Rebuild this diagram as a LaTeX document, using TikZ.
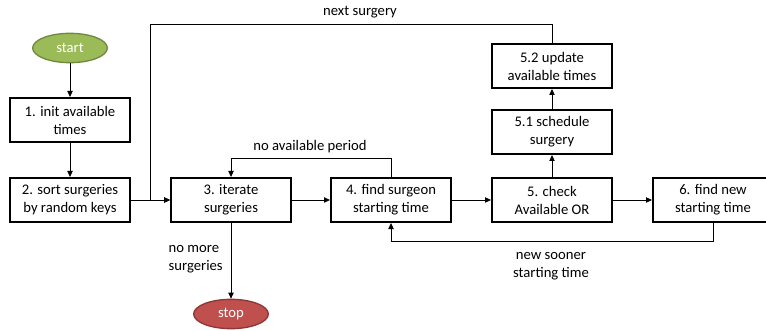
\documentclass[tikz,border=0pt]{standalone}
\usepackage{fontspec}
\setmainfont{Carlito}
\usetikzlibrary{arrows.meta,shapes.geometric}
\definecolor{startgreen}{HTML}{9BBB59}
\definecolor{startedge}{HTML}{71893F}
\definecolor{stopred}{HTML}{C0504D}
\definecolor{stopedge}{HTML}{8C3836}

\begin{document}
\begin{tikzpicture}[
  x=0.75pt, y=-0.75pt,
  stepbox/.style={draw, line width=1.5pt, minimum width=90pt, minimum height=33pt,
    align=center, font=\fontsize{11}{13.5}\selectfont},
  terminal/.style={ellipse, draw, line width=1pt, minimum width=56pt, minimum height=22pt,
    inner sep=0pt, text=white, font=\fontsize{11}{13.5}\selectfont},
  flow/.style={draw, line width=0.6pt, -{Triangle[length=4.5pt,width=4pt]}},
  note/.style={font=\fontsize{11}{13.5}\selectfont, align=center}
]
  \useasboundingbox (0,0) rectangle (766,331);

  % Terminals
  \node[terminal, fill=startgreen, draw=startedge] (start) at (70,48) {start};
  \node[terminal, fill=stopred, draw=stopedge] (stop) at (231,314) {stop};

  % Main steps
  \node[stepbox] (init) at (70,120) {1. init available\\times};
  \node[stepbox] (sort) at (70,200) {2. sort surgeries\\by random keys};
  \node[stepbox] (iter) at (231,200) {3. iterate\\surgeries};
  \node[stepbox] (surgeon) at (391,200) {4. find surgeon\\starting time};
  \node[stepbox] (check) at (552,200) {5. check\\Available OR};
  \node[stepbox] (newtime) at (713,200) {6. find new\\starting time};
  \node[stepbox] (sched) at (552,132) {5.1 schedule\\surgery};
  \node[stepbox] (update) at (552,66) {5.2 update\\available times};

  % Connectors
  \coordinate (loop) at (150,24);
  \draw[flow] (start) -- (init);
  \draw[flow] (init) -- (sort);
  \draw[flow] (sort) -- (iter);
  \draw[flow] (iter) -- (surgeon);
  \draw[flow] (surgeon) -- (check);
  \draw[flow] (check) -- (newtime);
  \draw[flow] (check) -- (sched);
  \draw[flow] (sched) -- (update);
  \draw[flow] (update.north) |- (loop) |- (iter.west);
  \draw[flow] (surgeon.north) -- ++(0,-19) -| (iter.north);
  \draw[flow] (newtime.south) -- ++(0,18) -| (surgeon.south);
  \draw[flow] (iter) -- (stop);

  % Labels
  \node[note] (lnext) at (360,12) {next surgery};
  \node[note] (lperiod) at (310,147) {no available period};
  \node[note, align=left, anchor=west] (lmore) at (164,259) {no more\\surgeries};
  \node[note] (lsooner) at (551,266) {new sooner\\starting time};
\end{tikzpicture}
\end{document}
